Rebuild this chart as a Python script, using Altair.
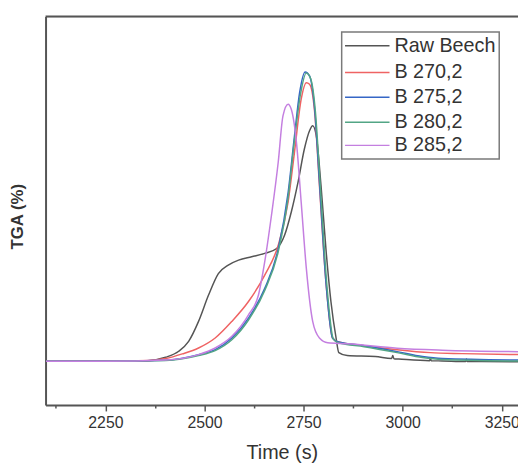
import altair as alt
import pandas as pd

series_names = ["Raw Beech", "B 270,2", "B 275,2", "B 280,2", "B 285,2"]
series_colors = ["#555555", "#ef6363", "#3566c6", "#52a585", "#c47fe0"]

raw_t = [2100, 2200, 2300, 2352, 2402, 2435, 2460, 2485, 2510, 2535, 2560, 2586, 2619,
         2652, 2682, 2702, 2719, 2736, 2752, 2765, 2773, 2782, 2794, 2807, 2819, 2832,
         2839, 2860, 2931, 2972, 2975, 2978, 2990, 3068, 3070, 3072, 3100, 3159, 3161,
         3163, 3200, 3291]
raw_v = [44.3, 44.3, 44.3, 44.6, 48.3, 54.4, 64.4, 84.6, 111, 133, 141.6, 146.6, 150,
         153.4, 158.4, 171.8, 195.3, 225.5, 259, 277.5, 282.6, 272.5, 222, 155, 104.7, 67.8,
         53, 50, 49, 47, 50, 46.8, 46.5, 44.9, 47.5, 44.8, 44.6, 44, 46.5, 43.9, 43.9, 43.7]

b270_t = [2100, 2250, 2360, 2402, 2444, 2485, 2527, 2569, 2611, 2652, 2686, 2711, 2727,
          2744, 2757, 2765, 2778, 2790, 2807, 2823, 2836, 2903, 2986, 3070, 3150, 3291]
b270_v = [44.3, 44.3, 45, 47, 51.7, 57.7, 67.8, 84.6, 104.7, 131.5, 161.7, 205.4, 255.7,
          309.4, 326, 324.5, 296, 222, 121.5, 67.8, 64, 60, 56, 53, 52, 51]

b275_t = [2100, 2250, 2402, 2485, 2527, 2569, 2611, 2652, 2686, 2711, 2727, 2740, 2754,
          2765, 2778, 2790, 2807, 2823, 2836, 2903, 2986, 3050, 3100, 3291]
b275_v = [44.3, 44.3, 45.3, 51, 56, 67.8, 88, 118, 158, 215, 272, 316, 337,
          333, 299, 225.5, 121.5, 67.8, 64, 60, 54, 49, 47, 45.5]

b280_t = [2100, 2250, 2402, 2485, 2527, 2569, 2611, 2652, 2686, 2711, 2727, 2742, 2757,
          2768, 2780, 2792, 2809, 2825, 2838, 2903, 2986, 3050, 3100, 3291]
b280_v = [44.3, 44.3, 45, 50, 55, 66, 86, 116, 155, 210, 268, 314, 336,
          330, 296, 222, 120, 67, 63, 59, 53, 48, 46, 44.5]

b285_t = [2100, 2250, 2402, 2485, 2527, 2569, 2611, 2636, 2652, 2669, 2686, 2698, 2711,
          2719, 2732, 2744, 2757, 2773, 2790, 2811, 2861, 2986, 3100, 3291]
b285_v = [44.3, 44.3, 45.6, 51, 57.7, 69.5, 91.3, 111, 145, 192, 245.6, 292.6, 304.4,
          299.3, 265.8, 205, 138, 84.6, 67.8, 63, 62, 57.5, 55.5, 54]

tick_values = [2125, 2250, 2375, 2500, 2625, 2750, 2875, 3000, 3125, 3250]

rows = []
for name, ts, vs in zip(series_names,
                        [raw_t, b270_t, b275_t, b280_t, b285_t],
                        [raw_v, b270_v, b275_v, b280_v, b285_v]):
    for i, (t, v) in enumerate(zip(ts, vs)):
        rows.append({"series": name, "time": t, "tga": v, "order": i})
df = pd.DataFrame(rows)

W, H = 478, 393
FONT = "Liberation Sans"

lines = alt.Chart(df).mark_line(strokeWidth=1.5, clip=True, interpolate="monotone").encode(
    x=alt.X("time:Q", scale=alt.Scale(domain=[2099, 3291], nice=False, zero=False),
            axis=alt.Axis(title="Time (s)", values=tick_values, format="d",
                          labelExpr="datum.value % 250 === 0 ? datum.label : ''",
                          tickSize={"condition": {"test": "datum.value % 250 === 0", "value": 6}, "value": 3},
                          tickWidth=1.5, tickColor="#555555",
                          domainColor="#555555", domainWidth=2,
                          labelFont=FONT, labelFontSize=16, labelColor="#333333",
                          labelPadding=4, labelFlush=False,
                          titleFont=FONT, titleFontSize=20, titleFontWeight="normal",
                          titleColor="#333333", titlePadding=12, grid=False)),
    y=alt.Y("tga:Q", scale=alt.Scale(domain=[0, 393], nice=False),
            axis=alt.Axis(title="TGA (%)", labels=False, ticks=False,
                          domainColor="#555555", domainWidth=2,
                          titleFont=FONT, titleFontSize=17, titleFontWeight="bold",
                          titleColor="#333333", titlePadding=19, titleY=202, grid=False)),
    color=alt.Color("series:N",
                    scale=alt.Scale(domain=series_names, range=series_colors),
                    legend=None),
    order="order:Q",
)

one = pd.DataFrame({"a": [0]})
top_border = alt.Chart(one).mark_rule(color="#555555", strokeWidth=2).encode(
    x=alt.value(0), x2=alt.value(W), y=alt.value(0)
)

# legend drawn as a boxed list
legend_box = alt.Chart(one).mark_rect(fill="white", stroke="#7a7a7a", strokeWidth=1.5).encode(
    x=alt.value(299.6), x2=alt.value(459), y=alt.value(15.5), y2=alt.value(144)
)
row_y = [29.6, 56.5, 81.6, 106.8, 130.3]
legend_layers = [legend_box]
for name, col, yc in zip(series_names, series_colors, row_y):
    legend_layers.append(
        alt.Chart(one).mark_rule(color=col, strokeWidth=1.5).encode(
            x=alt.value(303), x2=alt.value(348), y=alt.value(yc))
    )
    legend_layers.append(
        alt.Chart(one).mark_text(text=name, align="left", baseline="middle", font=FONT,
                                 fontSize=20, color="#333333").encode(
            x=alt.value(353), y=alt.value(yc))
    )

chart = alt.layer(lines, top_border, *legend_layers).properties(
    width=W, height=H,
    autosize=alt.AutoSizeParams(type="none"),
    padding={"left": 38, "top": 6, "right": 0, "bottom": 57},
).configure_view(stroke=None).configure(background="white")

chart.save("out.html", embed_options={"renderer": "svg", "actions": False})
